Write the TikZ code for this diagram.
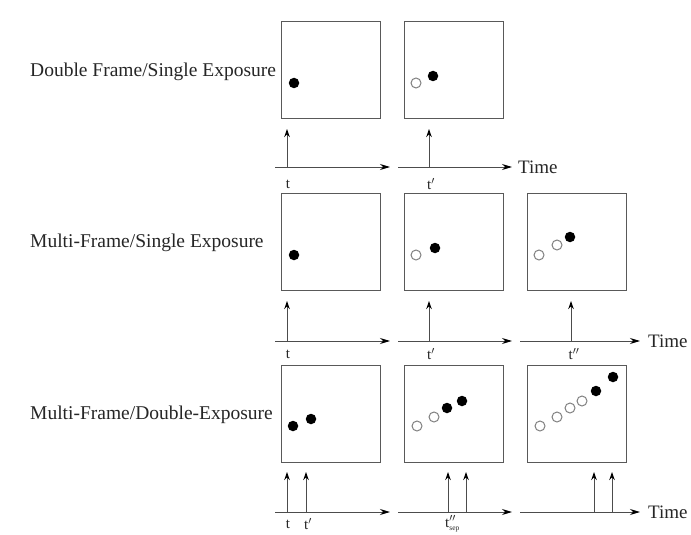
\documentclass[tikz,border=0pt]{standalone}
\usepackage{fontspec}
\setmainfont{Liberation Serif}
\usetikzlibrary{arrows.meta}
\begin{document}
\begin{tikzpicture}[x=1pt,y=-1pt,
  frame/.style={draw=black!65,line width=1pt,minimum width=99pt,minimum height=97pt,anchor=north west,inner sep=0pt},
  full/.style={circle,fill=black,minimum size=10.5pt,inner sep=0pt},
  hollow/.style={circle,draw=black!50,line width=1pt,fill=white,minimum size=10pt,inner sep=0pt},
  axis/.style={draw=black!70,line width=1pt,-{Stealth[length=10pt,width=6pt,color=black]}},
  pulse/.style={draw=black!70,line width=1pt,-{Stealth[length=8pt,width=5.5pt,color=black]}},
  rowlabel/.style={anchor=west,font=\fontsize{19.5}{22}\selectfont,inner sep=0pt,text=black!85},
  tlabel/.style={font=\fontsize{15}{17}\selectfont,inner sep=0pt,text=black!85},
  timelabel/.style={anchor=west,font=\fontsize{19}{22}\selectfont,inner sep=0pt,text=black!85}]
\useasboundingbox (0,0) rectangle (691,535);

% row labels
\node[rowlabel] (l1) at (30,72) {Double Frame/Single Exposure};
\node[rowlabel] (l2) at (30,243) {Multi-Frame/Single Exposure};
\node[rowlabel] (l3) at (30,415) {Multi-Frame/Double-Exposure};

% frames
\node[frame] (b11) at (281,21) {};
\node[frame] (b12) at (404,21) {};
\node[frame] (b21) at (281,193) {};
\node[frame] (b22) at (404,193) {};
\node[frame] (b23) at (527,193) {};
\node[frame] (b31) at (281,365) {};
\node[frame] (b32) at (404,365) {};
\node[frame] (b33) at (527,365) {};

% particles row 1
\node[full] (p111) at (294,83) {};
\node[hollow] (p121) at (416,83) {};
\node[full] (p122) at (433,76) {};
% row 2
\node[full] (p211) at (294,255) {};
\node[hollow] (p221) at (416,255) {};
\node[full] (p222) at (435,248) {};
\node[hollow] (p231) at (539,255) {};
\node[hollow] (p232) at (557,245) {};
\node[full] (p233) at (570,237) {};
% row 3
\node[full] (p311) at (293,426) {};
\node[full] (p312) at (311,419) {};
\node[hollow] (p321) at (417,426) {};
\node[hollow] (p322) at (434,417) {};
\node[full] (p323) at (447,408) {};
\node[full] (p324) at (462,401) {};
\node[hollow] (p331) at (540,426) {};
\node[hollow] (p332) at (557,417) {};
\node[hollow] (p333) at (570,408) {};
\node[hollow] (p334) at (582,401) {};
\node[full] (p335) at (596,391) {};
\node[full] (p336) at (613,377) {};

% time axes row 1
\coordinate (a11s) at (275,167); \coordinate (a11e) at (390,167);
\coordinate (a12s) at (398,167); \coordinate (a12e) at (512,167);
\draw[axis] (a11s) -- (a11e);
\draw[axis] (a12s) -- (a12e);
\node[timelabel] (time1) at (518,167) {Time};
% row 2
\coordinate (a21s) at (275,341); \coordinate (a21e) at (390,341);
\coordinate (a22s) at (398,341); \coordinate (a22e) at (512,341);
\coordinate (a23s) at (520,341); \coordinate (a23e) at (640,341);
\draw[axis] (a21s) -- (a21e);
\draw[axis] (a22s) -- (a22e);
\draw[axis] (a23s) -- (a23e);
\node[timelabel] (time2) at (648,341) {Time};
% row 3
\coordinate (a31s) at (275,512); \coordinate (a31e) at (390,512);
\coordinate (a32s) at (398,512); \coordinate (a32e) at (512,512);
\coordinate (a33s) at (520,512); \coordinate (a33e) at (640,512);
\draw[axis] (a31s) -- (a31e);
\draw[axis] (a32s) -- (a32e);
\draw[axis] (a33s) -- (a33e);
\node[timelabel] (time3) at (648,512) {Time};

% pulses row 1
\coordinate (q11) at (287,167); \coordinate (r11) at (287,129);
\coordinate (q12) at (429,167); \coordinate (r12) at (429,129);
\draw[pulse] (q11) -- (r11);
\draw[pulse] (q12) -- (r12);
% row 2
\coordinate (q21) at (287,341); \coordinate (r21) at (287,301);
\coordinate (q22) at (429,341); \coordinate (r22) at (429,301);
\coordinate (q23) at (571,341); \coordinate (r23) at (571,301);
\draw[pulse] (q21) -- (r21);
\draw[pulse] (q22) -- (r22);
\draw[pulse] (q23) -- (r23);
% row 3
\coordinate (q31) at (287,512); \coordinate (r31) at (287,472);
\coordinate (q32) at (306,512); \coordinate (r32) at (306,472);
\coordinate (q33) at (448,512); \coordinate (r33) at (448,472);
\coordinate (q34) at (466,512); \coordinate (r34) at (466,472);
\coordinate (q35) at (594,512); \coordinate (r35) at (594,472);
\coordinate (q36) at (612,512); \coordinate (r36) at (612,472);
\foreach \i in {1,...,6} {\draw[pulse] (q3\i) -- (r3\i);}

% time labels
\node[tlabel] (t11) at (288,184) {t};
\node[tlabel] (t12) at (431,184) {t$'$};
\node[tlabel] (t21) at (288,354) {t};
\node[tlabel] (t22) at (431,354) {t$'$};
\node[tlabel] (t23) at (574,354) {t$''$};
\node[tlabel] (t31) at (288,524) {t};
\node[tlabel] (t32) at (308,524) {t$'$};
\node[tlabel,anchor=west] (t33) at (445,524) {t$''_{\scriptscriptstyle\mathrm{sep}}$};
\end{tikzpicture}
\end{document}
